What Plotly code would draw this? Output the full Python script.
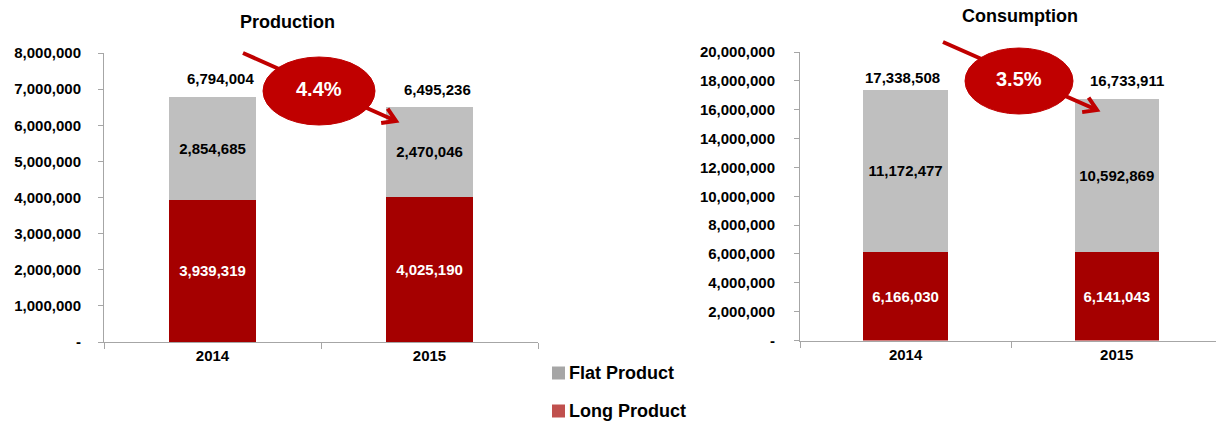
import math
import plotly.graph_objects as go

# ---------------- data ----------------
years = ["2014", "2015"]
series_names = ["Flat Product", "Long Product"]
prod_flat = [2854685, 2470046]
prod_long = [3939319, 4025190]
prod_total = [6794004, 6495236]
cons_flat = [11172477, 10592869]
cons_long = [6166030, 6141043]
cons_total = [17338508, 16733911]
prod_ticks = [0, 1000000, 2000000, 3000000, 4000000, 5000000, 6000000, 7000000, 8000000]
cons_ticks = [0, 2000000, 4000000, 6000000, 8000000, 10000000, 12000000, 14000000,
              16000000, 18000000, 20000000]
chart_titles = ["Production", "Consumption"]

# ---------------- style ----------------
W, H = 1216, 422
FONT = "Liberation Sans, Arial, sans-serif"
RED_BAR = "#a50000"
GRAY_BAR = "#bfbfbf"
RED_LEG = "#c0504d"
GRAY_LEG = "#a6a6a6"
BUBBLE = "#c00000"
AXIS = "#a6a6a6"


def px(x):
    return x / W


def py(y):
    return 1 - y / H


def tick_text(vals):
    return ["-" if v == 0 else f"{v:,}" for v in vals]


fig = go.Figure()

for xa, ya, flat, long_ in (("x", "y", prod_flat, prod_long), ("x2", "y2", cons_flat, cons_long)):
    fig.add_trace(go.Bar(x=years, y=long_, name=series_names[1], marker=dict(color=RED_BAR, line=dict(width=0)),
                         texttemplate="%{y:,.0f}", textposition="inside", insidetextanchor="middle",
                         textfont=dict(color="white", size=15, family=FONT, weight="bold"),
                         constraintext="none", xaxis=xa, yaxis=ya, showlegend=False, hoverinfo="skip"))
    fig.add_trace(go.Bar(x=years, y=flat, name=series_names[0], marker=dict(color=GRAY_BAR, line=dict(width=0)),
                         texttemplate="%{y:,.0f}", textposition="inside", insidetextanchor="middle",
                         textfont=dict(color="black", size=15, family=FONT, weight="bold"),
                         constraintext="none", xaxis=xa, yaxis=ya, showlegend=False, hoverinfo="skip"))

tickfont = dict(family=FONT, size=15, color="black", weight="bold")
common_x = dict(type="category", showline=True, linecolor=AXIS, linewidth=1, ticks="outside",
                tickson="boundaries", ticklen=6, tickcolor=AXIS, showgrid=False, zeroline=False,
                tickfont=tickfont, fixedrange=True, automargin=False)
common_y = dict(showline=True, linecolor=AXIS, linewidth=1, ticks="outside", ticklen=5, tickcolor=AXIS,
                showgrid=False, zeroline=False, tickfont=tickfont, fixedrange=True, automargin=False)

fig.update_layout(
    width=W, height=H, margin=dict(l=0, r=0, t=0, b=0, pad=0, autoexpand=False),
    autosize=False,
    paper_bgcolor="white", plot_bgcolor="white",
    barmode="stack", bargap=0.6, showlegend=False,
    font=dict(family=FONT, color="black"),
    xaxis=dict(common_x, domain=[px(104), px(538)], range=[-0.5, 1.5], anchor="y"),
    yaxis=dict(common_y, domain=[py(342), py(53)], range=[0, 8000000], anchor="x",
               tickvals=prod_ticks, ticktext=tick_text(prod_ticks), ticklabelstandoff=14),
    xaxis2=dict(common_x, domain=[px(800), 1.0], range=[-0.5, 1.47], anchor="y2"),
    yaxis2=dict(common_y, domain=[py(340.5), py(52)], range=[0, 20000000], anchor="x2",
                tickvals=cons_ticks, ticktext=tick_text(cons_ticks), ticklabelstandoff=16),
)

# total labels above bars (x given as category index)
label_font = dict(family=FONT, size=15, color="black", weight="bold")
totals_cfg = [
    ("x", "y", prod_total, [(8, 8), (8, 7)]),
    ("x2", "y2", cons_total, [(-3, 2), (10, 8)]),
]
for xa, ya, totals, shifts in totals_cfg:
    for i, yr in enumerate(years):
        tot = totals[i]
        fig.add_annotation(x=i, y=tot, xref=xa, yref=ya, text=f"{tot:,}", showarrow=False,
                           xanchor="center", yanchor="bottom", xshift=shifts[i][0], yshift=shifts[i][1],
                           font=label_font)

# titles
title_font = dict(family=FONT, size=18, color="black", weight="bold")
for txt, (tx, ty) in zip(chart_titles, [(287, 22), (1020, 16)]):
    fig.add_annotation(x=px(tx), y=py(ty), xref="paper", yref="paper", text=txt, showarrow=False,
                       xanchor="center", yanchor="middle", font=title_font)


# change bubbles with arrows
def arrow_path(x0, y0, x1, y1, head=15, ang=32):
    dx, dy = x1 - x0, y1 - y0
    L = math.hypot(dx, dy)
    ux, uy = dx / L, dy / L
    pts = []
    for s in (-1, 1):
        a = math.radians(ang) * s
        rx = ux * math.cos(a) - uy * math.sin(a)
        ry = ux * math.sin(a) + uy * math.cos(a)
        pts.append((x1 - head * rx, y1 - head * ry))
    return (f"M {px(x0)} {py(y0)} L {px(x1)} {py(y1)} "
            f"M {px(pts[0][0])} {py(pts[0][1])} L {px(x1)} {py(y1)} L {px(pts[1][0])} {py(pts[1][1])}")


bubbles = [
    ((243, 53), (396, 121), (319, 91, 112, 68), prod_total),
    ((943, 42), (1097, 110), (1019, 81, 108, 66), cons_total),
]
for tail, tip, (cx, cy, bw, bh), totals in bubbles:
    fig.add_shape(type="path", path=arrow_path(*tail, *tip), xref="paper", yref="paper",
                  line=dict(color=BUBBLE, width=4), layer="above")
    fig.add_shape(type="circle", xref="paper", yref="paper",
                  x0=px(cx - bw / 2), x1=px(cx + bw / 2), y0=py(cy + bh / 2), y1=py(cy - bh / 2),
                  fillcolor=BUBBLE, line=dict(color=BUBBLE, width=1), layer="above")
    pct = (totals[0] - totals[1]) / totals[0] * 100
    fig.add_annotation(x=px(cx), y=py(cy - 2), xref="paper", yref="paper", text=f"{pct:.1f}%", showarrow=False,
                       xanchor="center", yanchor="middle",
                       font=dict(family=FONT, size=20, color="white", weight="bold"))

# legend (drawn manually to match swatch layout)
for name, col, yc in ((series_names[0], GRAY_LEG, 373), (series_names[1], RED_LEG, 411)):
    fig.add_shape(type="rect", xref="paper", yref="paper", x0=px(552), x1=px(565), y0=py(yc + 6.5), y1=py(yc - 6.5),
                  fillcolor=col, line=dict(width=0))
    fig.add_annotation(x=px(567), y=py(yc), xref="paper", yref="paper", text=name, showarrow=False,
                       xanchor="left", yanchor="middle", font=dict(family=FONT, size=18, color="black", weight="bold"))

fig.write_html("out.html", config={"responsive": False, "displayModeBar": False},
               post_script="document.body.style.margin='0';document.body.style.overflow='hidden';")
